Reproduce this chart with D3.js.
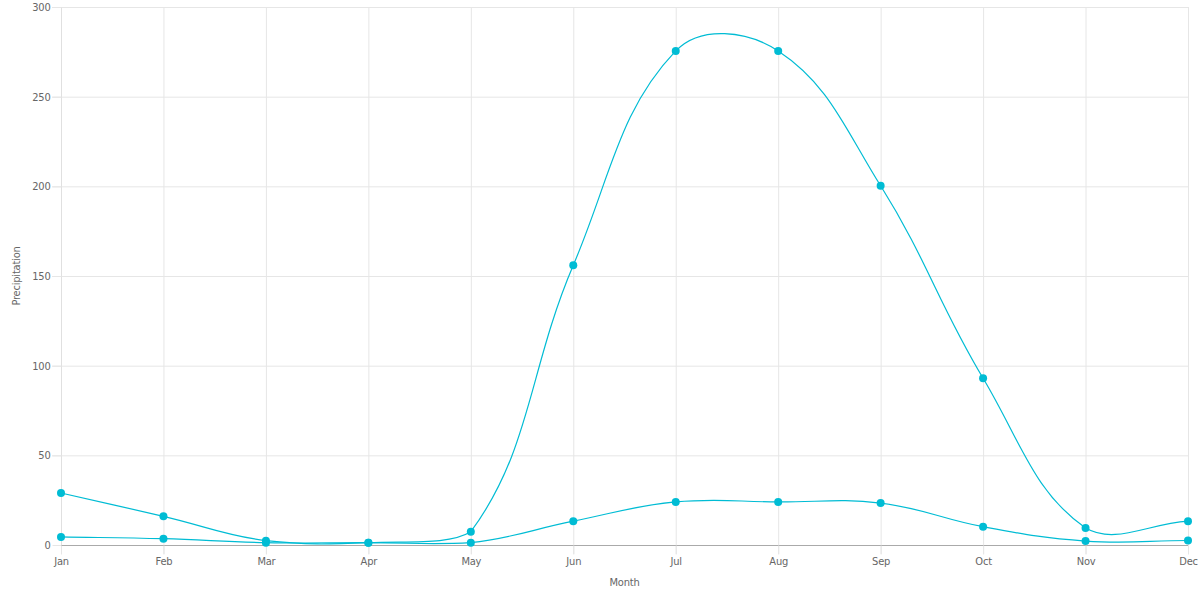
<!DOCTYPE html>
<html>
<head>
<meta charset="utf-8">
<script src="https://cdn.jsdelivr.net/npm/d3@7"></script>
<style>
  body { margin: 0; background: #fff; }
  svg text { font-family: "DejaVu Sans Condensed", "Roboto", sans-serif; fill: #666; letter-spacing: -0.2px; }
</style>
</head>
<body>
<div id="chart"></div>
<script>
const months = ["Jan", "Feb", "Mar", "Apr", "May", "Jun", "Jul", "Aug", "Sep", "Oct", "Nov", "Dec"]
const rainHigh = [29, 16, 2.4, 1.3, 7.4, 156, 275.5, 275.5, 200.3, 93, 9.5, 13.3]
const rainLow = [4.5, 3.5, 1.3, 1.3, 1.3, 13.3, 24, 24, 23.4, 10.2, 2.2, 2.5]
const yTicks = [0, 50, 100, 150, 200, 250, 300]

const width = 1200, height = 600
const margin = {top: 7, right: 12, bottom: 55, left: 61}
const lineColor = "#00bcd4"
const fontSize = 11

// chart.js style bezier (tension 0.4), distance weighted control points, capped to the plot area
function splineCurve(context) {
    let pts = []
    const top = margin.top, bottom = height - margin.bottom
    const cap = v => Math.max(top, Math.min(bottom, v))
    return {
        areaStart() {}, areaEnd() {},
        lineStart() { pts = [] },
        point(x, y) { pts.push([x, y]) },
        lineEnd() {
            const t = 0.4
            const cps = pts.map((cur, i) => {
                const prev = pts[i - 1] || cur, next = pts[i + 1] || cur
                const d01 = Math.hypot(cur[0] - prev[0], cur[1] - prev[1])
                const d12 = Math.hypot(next[0] - cur[0], next[1] - cur[1])
                let s01 = d01 / (d01 + d12), s12 = d12 / (d01 + d12)
                if (isNaN(s01)) s01 = 0
                if (isNaN(s12)) s12 = 0
                const fa = t * s01, fb = t * s12
                return {
                    prev: [cur[0] - fa * (next[0] - prev[0]), cap(cur[1] - fa * (next[1] - prev[1]))],
                    next: [cur[0] + fb * (next[0] - prev[0]), cap(cur[1] + fb * (next[1] - prev[1]))]
                }
            })
            pts.forEach((p, i) => {
                if (i === 0) context.moveTo(p[0], p[1])
                else context.bezierCurveTo(cps[i - 1].next[0], cps[i - 1].next[1], cps[i].prev[0], cps[i].prev[1], p[0], p[1])
            })
        }
    }
}

const svg = d3.select("#chart").append("svg")
    .attr("width", width)
    .attr("height", height)

const xScale = d3.scalePoint()
    .domain(months)
    .range([margin.left, width - margin.right])

const yScale = d3.scaleLinear()
    .domain([0, 300])
    .range([height - margin.bottom, margin.top])

// grid
svg.append("g").selectAll("line")
    .data(yTicks.filter(d => d > 0))
    .join("line")
    .attr("x1", margin.left - 9).attr("x2", width - margin.right)
    .attr("y1", d => yScale(d) + 0.5).attr("y2", d => yScale(d) + 0.5)
    .attr("stroke", "#e6e6e6")
svg.append("g").selectAll("line")
    .data(months.slice(1))
    .join("line")
    .attr("x1", d => xScale(d) + 0.5).attr("x2", d => xScale(d) + 0.5)
    .attr("y1", margin.top).attr("y2", height - margin.bottom + 9)
    .attr("stroke", "#e6e6e6")

const xAxis = d3.axisBottom(xScale).tickSize(9).tickPadding(3)
const yAxis = d3.axisLeft(yScale).tickValues(yTicks).tickSize(9).tickPadding(2)

svg.append("g")
    .attr("transform", `translate(${margin.left + 0.5},0)`)
    .call(yAxis)
    .call(g => g.select(".domain").attr("stroke", "#e0e0e0").attr("d", `M0,${margin.top}V${height - margin.bottom + 9}`))
    .call(g => g.selectAll(".tick line").attr("stroke", "#e6e6e6"))
    .call(g => g.selectAll("text").attr("font-size", fontSize).attr("fill", "#666"))

svg.append("g")
    .attr("transform", `translate(0,${height - margin.bottom + 0.5})`)
    .call(xAxis)
    .call(g => g.select(".domain").attr("stroke", "#aaa").attr("d", `M${margin.left},0H${width - margin.right}`))
    .call(g => g.selectAll(".tick line").attr("stroke", "#e6e6e6"))
    .call(g => g.selectAll("text").attr("font-size", fontSize).attr("fill", "#666"))

// axis titles
svg.append("text")
    .attr("x", (margin.left + width - margin.right) / 2)
    .attr("y", 586)
    .attr("text-anchor", "middle")
    .attr("font-size", fontSize)
    .text("Month")
svg.append("text")
    .attr("transform", `translate(20,${(margin.top + height - margin.bottom) / 2}) rotate(-90)`)
    .attr("text-anchor", "middle")
    .attr("font-size", fontSize)
    .text("Precipitation")

const line = d3.line()
    .x((d, i) => xScale(months[i]))
    .y(d => yScale(d))
    .curve(splineCurve)

;[rainHigh, rainLow].forEach(series => {
    svg.append("path")
        .datum(series)
        .attr("fill", "none")
        .attr("stroke", lineColor)
        .attr("stroke-width", 1.2)
        .attr("d", line)
    svg.append("g").selectAll("circle")
        .data(series)
        .join("circle")
        .attr("cx", (d, i) => xScale(months[i]))
        .attr("cy", d => yScale(d))
        .attr("r", 4)
        .attr("fill", lineColor)
})
</script>
</body>
</html>
